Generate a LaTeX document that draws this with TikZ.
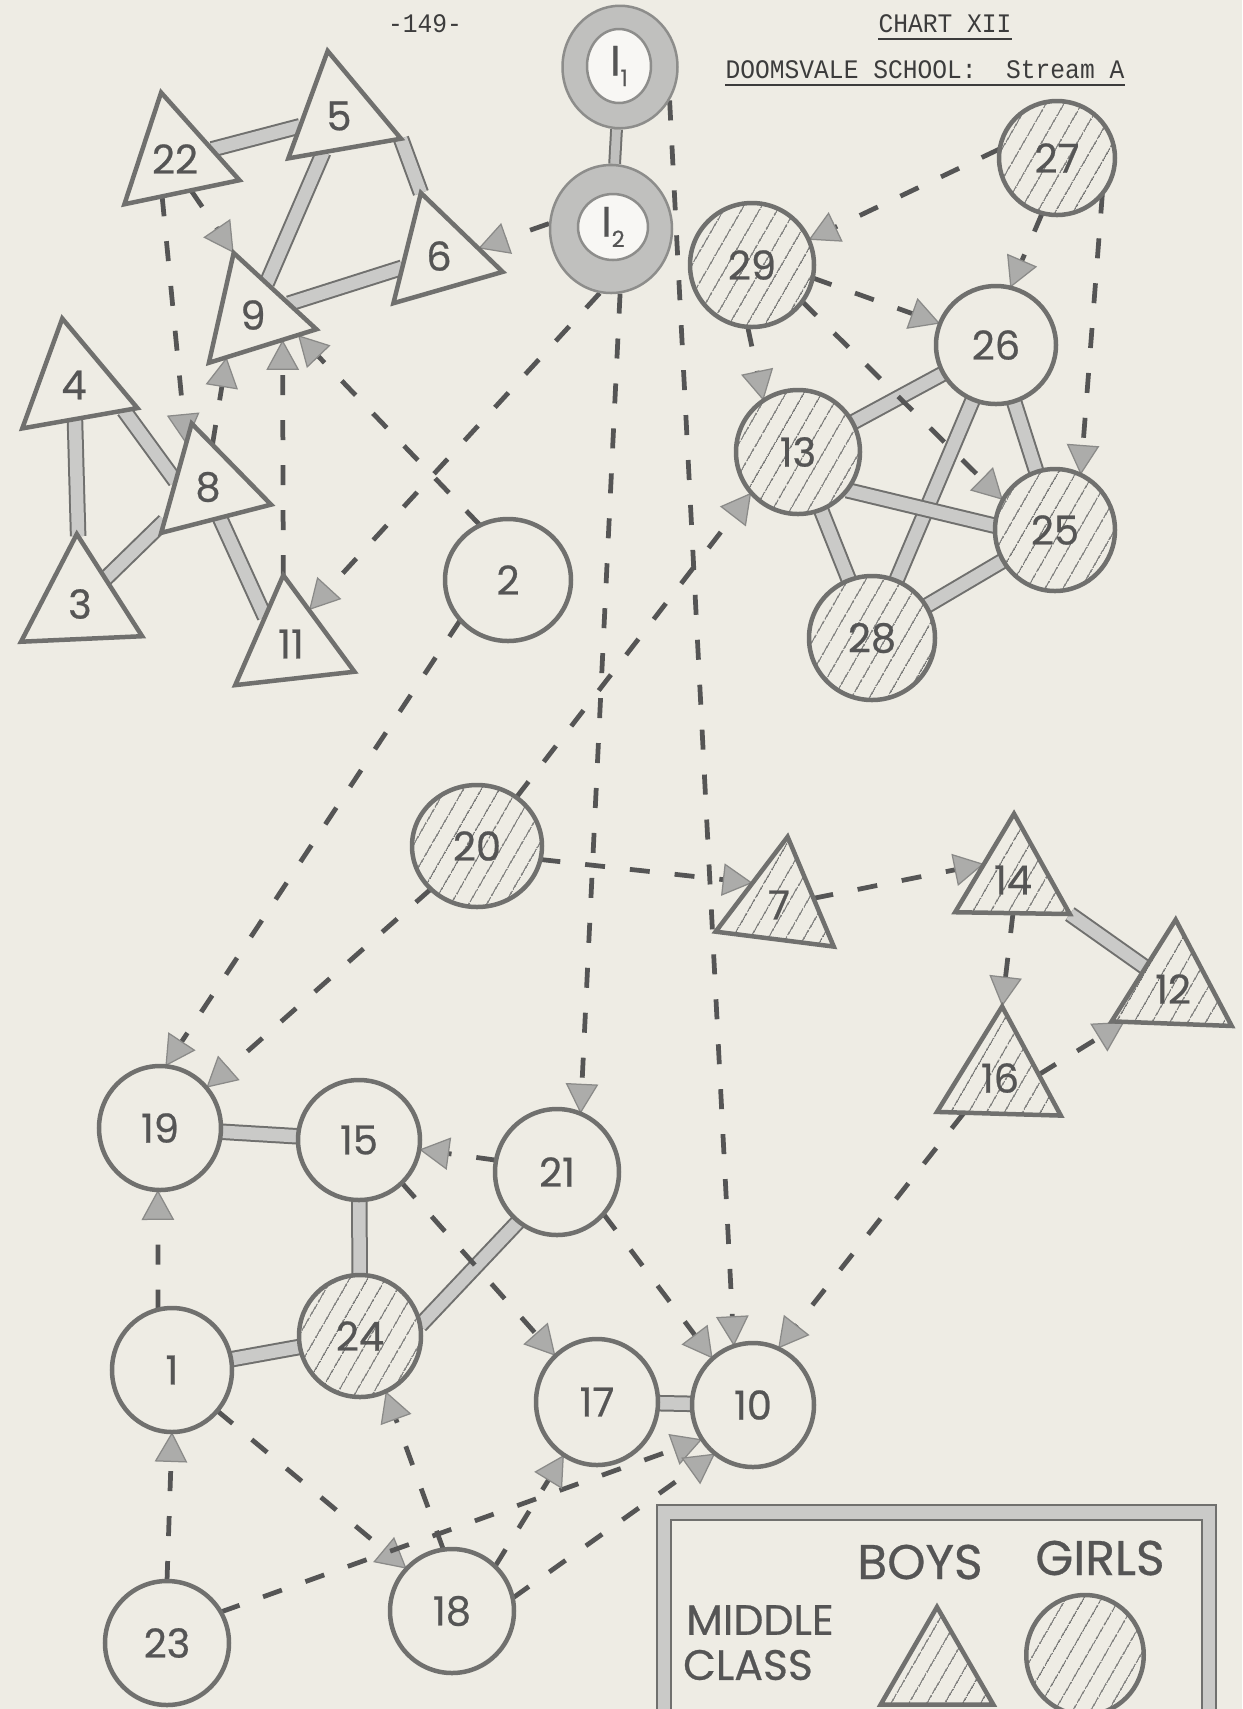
\documentclass[tikz,border=0pt]{standalone}
\usepackage{fontspec}
\setmainfont{Liberation Serif}
\newfontfamily\hand{Poppins}[FakeBold=0.6]
\newfontfamily\typew{Liberation Mono}[FakeStretch=0.92]
\usetikzlibrary{shapes.geometric,arrows.meta,patterns.meta}
\pgfdeclarelayer{paperlayer}
\pgfdeclarelayer{linklayer}
\pgfsetlayers{paperlayer,linklayer,main}
\definecolor{paper}{RGB}{238,236,228}
\definecolor{ink}{RGB}{112,112,110}
\definecolor{darkink}{RGB}{85,85,85}
\definecolor{band}{RGB}{202,202,200}
\definecolor{tipfill}{RGB}{172,172,170}
\definecolor{ringfill}{RGB}{192,192,190}
\definecolor{typeink}{RGB}{60,60,60}
\tikzset{
  person/.style={draw=ink, line width=1.8pt, fill=paper, inner sep=0pt, outer sep=0pt, text=darkink, font=\hand\fontsize{16}{16}\selectfont},
  girl/.style={person, ellipse},
  boy/.style={person, regular polygon, regular polygon sides=3},
  hatched/.style={pattern={Lines[angle=60,distance=6.5pt,line width=0.55pt]}, pattern color=ink, preaction={fill=paper}},
  tie/.style={draw=ink, line width=0.8pt, double=band, double distance=5pt},
  choice/.style={draw=darkink, line width=1.9pt, dash pattern=on 8pt off 10pt, -{Triangle[length=12pt,width=13pt,fill=tipfill,color=tipfill!80!black,line width=0.5pt]}},
  ring/.style={ellipse, draw=ink!80, line width=1pt, fill=ringfill, inner sep=0pt},
  ringhole/.style={ellipse, draw=ink!80, line width=1pt, fill=paper!40!white, inner sep=0pt, text=darkink, font=\hand\fontsize{17}{17}\selectfont},
  type/.style={font=\typew\fontsize{10.7}{12}\selectfont, text=typeink, inner sep=0pt},
  uline/.style={draw=typeink, line width=1.1pt},
  legendtext/.style={font=\hand\fontsize{19.5}{20}\selectfont, text=darkink, inner sep=0pt},
  classtext/.style={font=\hand\fontsize{17}{18}\selectfont, text=darkink, inner sep=0pt},
}
\begin{document}
\begin{tikzpicture}[x=0.4pt,y=-0.4pt]
\begin{pgfonlayer}{paperlayer}
\fill[paper] (0,0) rectangle (1242,1709);
\end{pgfonlayer}
\useasboundingbox (0,0) rectangle (1242,1709);

% header
\node[type] (pageno) at (425,24) {-149-};
\node[type] (chart) at (945,24) {CHART XII};
\node[type] (school) at (925,70) {DOOMSVALE SCHOOL:\ \ Stream A};
\draw[uline] ([yshift=-2.5pt]chart.base west) -- ([yshift=-2.5pt]chart.base east);
\draw[uline] ([yshift=-2.5pt]school.base west) -- ([yshift=-2.5pt]school.base east);

% isolates I1, I2
\node[ring, minimum width=46pt, minimum height=49pt] (I1) at (620,67) {};
\node[ringhole, minimum width=25.6pt, minimum height=29.6pt] (I1in) at (619,66) {I\raisebox{-0.45ex}{\fontsize{9}{9}\selectfont 1}};
\node[ring, minimum width=48.8pt, minimum height=51.2pt] (I2) at (611,229) {};
\node[ringhole, minimum width=28pt, minimum height=26.4pt] (I2in) at (613,227) {I\raisebox{-0.45ex}{\fontsize{9}{9}\selectfont 2}};

% girls (circles)
\node[girl, hatched, minimum width=46.4pt, minimum height=45.6pt] (c27) at (1057,158) {27};
\node[girl, hatched, minimum width=49.6pt, minimum height=49.6pt] (c29) at (752,265) {29};
\node[girl, minimum width=48pt, minimum height=47.2pt] (c26) at (996,345) {26};
\node[girl, hatched, minimum width=49.6pt, minimum height=49.6pt] (c13) at (798,452) {13};
\node[girl, hatched, minimum width=48pt, minimum height=48.8pt] (c25) at (1055,530) {25};
\node[girl, hatched, minimum width=50.4pt, minimum height=49.6pt] (c28) at (872,638) {28};
\node[girl, minimum width=50.4pt, minimum height=48.8pt] (c2) at (508,580) {2};
\node[girl, hatched, minimum width=52pt, minimum height=48.8pt] (c20) at (477,846) {20};
\node[girl, minimum width=48.8pt, minimum height=49.6pt] (c19) at (160,1128) {19};
\node[girl, minimum width=48.8pt, minimum height=48pt] (c15) at (359,1140) {15};
\node[girl, minimum width=49.6pt, minimum height=50.4pt] (c21) at (557,1172) {21};
\node[girl, minimum width=48pt, minimum height=49.6pt] (c1) at (172,1370) {1};
\node[girl, hatched, minimum width=48.8pt, minimum height=48.8pt] (c24) at (360,1336) {24};
\node[girl, minimum width=48.8pt, minimum height=50.4pt] (c17) at (597,1402) {17};
\node[girl, minimum width=48.8pt, minimum height=49.6pt] (c10) at (753,1405) {10};
\node[girl, minimum width=49.6pt, minimum height=49.6pt] (c23) at (167,1643) {23};
\node[girl, minimum width=49.6pt, minimum height=49.6pt] (c18) at (452,1611) {18};

% boys (triangles)
\node[boy, minimum size=54.3pt, shape border rotate=11.8] (t22) at (175,159) {22};
\node[boy, minimum size=52.8pt, shape border rotate=9.9] (t5) at (339,116) {5};
\node[boy, minimum size=52.5pt, shape border rotate=16] (t6) at (439,256) {6};
\node[boy, minimum size=52pt, shape border rotate=17.3] (t9) at (253,315) {9};
\node[boy, minimum size=54pt, shape border rotate=10] (t4) at (74,385) {4};
\node[boy, minimum size=52.4pt, shape border rotate=14.4] (t8) at (208,487) {8};
\node[boy, minimum size=56pt, shape border rotate=2.6] (t3) at (80,604) {3};
\node[boy, minimum size=55.4pt, shape border rotate=6.4] (t11) at (291,644) {11};
\node[boy, hatched, minimum size=55pt, shape border rotate=-7.2] (t7) at (779,905) {7};
\node[boy, hatched, minimum size=53pt, shape border rotate=-0.9] (t14) at (1013,880) {14};
\node[boy, hatched, minimum size=55.5pt, shape border rotate=-2.2] (t12) at (1173,989) {12};
\node[boy, hatched, minimum size=57.2pt, shape border rotate=-1.7] (t16) at (1000,1078) {16};

% legend
\node[tie, rectangle, minimum width=218pt, minimum height=110pt, inner sep=0pt] (legendbox) at (936.5,1650) {};
\node[legendtext] (boys) at (920,1562) {BOYS};
\node[legendtext] (girls) at (1100,1558) {GIRLS};
\node[classtext] (middle) at (760,1620) {MIDDLE};
\node[classtext] (class) at (748,1665) {CLASS};
\node[boy, hatched, minimum size=52pt] (keyboy) at (937,1672) {};
\node[girl, hatched, minimum width=47pt, minimum height=48pt] (keygirl) at (1085,1655) {};

\begin{pgfonlayer}{linklayer}
% mutual ties
\draw[tie, double=ringfill, double distance=3.5pt] (I1) -- (I2);
\draw[tie] (t22) -- (t5);
\draw[tie] (t5) -- (t9);
\draw[tie] (t5.corner 3) -- (t6.corner 1);
\draw[tie] (t9) -- (t6);
\draw[tie] (t4) -- (t3);
\draw[tie] (t4.-27) -- (t8.170);
\draw[tie] (t3.45) -- (t8.-142);
\draw[tie] (t8.-69) -- (t11.134);
\draw[tie] (c19) -- (c15);
\draw[tie] (c15) -- (c24);
\draw[tie] (c1) -- (c24);
\draw[tie] (c24.10) -- (c21.-128);
\draw[tie] (c17) -- (c10);
\draw[tie] (c13) -- (c26);
\draw[tie] (c26) -- (c28);
\draw[tie] (c26) -- (c25);
\draw[tie] (c13.-38) -- (c25.176);
\draw[tie] (c13) -- (c28);
\draw[tie] (c28) -- (c25);
\draw[tie] (t14.corner 3) -- (t12.142);
% one-way choices
\draw[choice] (t22.-63) -- (t9.corner 1);
\draw[choice] (t22.-109) -- (t8.117);
\draw[choice] (t8.84) -- (t9.-122);
\draw[choice] (t11.corner 1) -- (t9.-40);
\draw[choice] (c2.117) -- (t9.-24);
\draw[choice] (I2.175) -- (t6.11);
\draw[choice] (I2.-100) -- (t11.62);
\draw[choice] (I2.-82) -- (c21.68);
\draw[choice] (I1.-34) -- (c10.108);
\draw[choice] (c27.171) -- (c29.24);
\draw[choice] (c27.-105) -- (c26.76);
\draw[choice] (c27.-38) -- (c25.65);
\draw[choice] (c29.-12) -- (c26.159);
\draw[choice] (c29.-94) -- (c13.124);
\draw[choice] (c29.-36) -- (c25.150);
\draw[choice] (c20.51) -- (c13.-139);
\draw[choice] (c2.-140) -- (c19.85);
\draw[choice] (c20.-137) -- (c19.41);
\draw[choice] (c20.-12) -- (t7.140);
\draw[choice] (t7.11) -- (t14.151);
\draw[choice] (t14.-90) -- (t16.corner 1);
\draw[choice] (t16.5) -- (t12.-146);
\draw[choice] (t16.-136) -- (c10.66);
\draw[choice] (c21.169) -- (c15.-9);
\draw[choice] (c15.-45) -- (c17.132);
\draw[choice] (c21.-42) -- (c10.131);
\draw[choice] (c1.103) -- (c19.-92);
\draw[choice] (c23.90) -- (c1.-90);
\draw[choice] (c1.-42) -- (c18.137);
\draw[choice] (c23.30) -- (c10.-146);
\draw[choice] (c18.98) -- (c24.-65);
\draw[choice] (c18.46) -- (c17.-122);
\draw[choice] (c18.12) -- (c10.-128);
\end{pgfonlayer}
\end{tikzpicture}
\end{document}
